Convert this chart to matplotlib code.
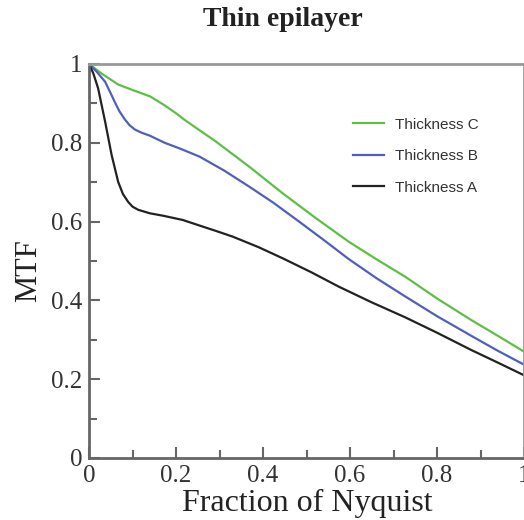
import matplotlib
matplotlib.use("Agg")
import matplotlib.pyplot as plt
from matplotlib.ticker import MultipleLocator, FuncFormatter

# MTF curves vs. spatial frequency (fraction of Nyquist)
x_a = [0, 0.01, 0.021, 0.037, 0.052, 0.067, 0.078, 0.09, 0.1, 0.113, 0.14, 0.17,
       0.216, 0.254, 0.29, 0.33, 0.39, 0.445, 0.51, 0.574, 0.65, 0.727, 0.8,
       0.879, 0.94, 1.0]
mtf_a = [1.0, 0.976, 0.938, 0.854, 0.769, 0.701, 0.67, 0.65, 0.638, 0.63, 0.621,
         0.615, 0.604, 0.59, 0.577, 0.562, 0.535, 0.507, 0.472, 0.435, 0.395,
         0.357, 0.318, 0.274, 0.242, 0.21]

x_b = [0, 0.018, 0.037, 0.048, 0.059, 0.07, 0.082, 0.093, 0.105, 0.12, 0.14,
       0.174, 0.21, 0.254, 0.31, 0.368, 0.425, 0.483, 0.54, 0.597, 0.66, 0.727,
       0.8, 0.879, 0.94, 1.0]
mtf_b = [1.0, 0.98, 0.955, 0.93, 0.904, 0.88, 0.86, 0.845, 0.834, 0.826, 0.818,
         0.80, 0.785, 0.765, 0.73, 0.689, 0.647, 0.60, 0.553, 0.505, 0.457, 0.41,
         0.36, 0.31, 0.272, 0.237]

x_c = [0, 0.03, 0.067, 0.1, 0.14, 0.174, 0.2, 0.22, 0.292, 0.37, 0.445, 0.52,
       0.597, 0.66, 0.727, 0.8, 0.879, 0.94, 1.0]
mtf_c = [1.0, 0.975, 0.948, 0.934, 0.918, 0.895, 0.875, 0.858, 0.803, 0.738,
         0.672, 0.61, 0.549, 0.505, 0.46, 0.405, 0.35, 0.31, 0.27]

labels = ["Thickness C", "Thickness B", "Thickness A"]
colors = ["#5dc045", "#4f5fc0", "#222222"]

W, H = 524, 520
fig = plt.figure(figsize=(W / 100, H / 100), dpi=100)
ax = fig.add_axes([89 / W, (H - 458) / H, (524 - 89) / W, (458 - 64) / H])

serif = ["Liberation Serif", "DejaVu Serif"]
sans = ["Liberation Sans", "DejaVu Sans"]

for xs, ys, lab, col in zip([x_c, x_b, x_a], [mtf_c, mtf_b, mtf_a], labels, colors):
    ax.plot(xs, ys, color=col, lw=1.6, label=lab, solid_joinstyle="round")

ax.set_xlim(0, 1)
ax.set_ylim(0, 1)

ax.xaxis.set_major_locator(MultipleLocator(0.2))
ax.xaxis.set_minor_locator(MultipleLocator(0.1))
ax.yaxis.set_major_locator(MultipleLocator(0.2))
ax.yaxis.set_minor_locator(MultipleLocator(0.1))
fmt = FuncFormatter(lambda v, p: "%g" % round(v, 2))
ax.xaxis.set_major_formatter(fmt)
ax.yaxis.set_major_formatter(fmt)

ax.tick_params(which="both", direction="in", color="#666666", width=1.5,
               labelsize=18, labelcolor="#333333", top=False, right=False)
ax.tick_params(which="major", length=8, pad=5)
ax.tick_params(which="minor", length=6)
for lab in ax.get_xticklabels() + ax.get_yticklabels():
    lab.set_fontfamily(serif)

for name, sp in ax.spines.items():
    sp.set_color("#666666" if name in ("left", "bottom") else "#999999")
    sp.set_linewidth(2)

fig.text(283 / W, 1 - 19 / H, "Thin epilayer", family=serif, fontsize=20,
         fontweight="bold", color="#222222", ha="center", va="center")
fig.text(307 / W, 1 - 503 / H, "Fraction of Nyquist", family=serif, fontsize=23,
         color="#222222", ha="center", va="center")
fig.text(29 / W, 1 - 271 / H, "MTF", family=serif, fontsize=22,
         color="#222222", ha="center", va="center", rotation=90)

leg = ax.legend(loc="upper left", bbox_to_anchor=(345 / W, 1 - 110 / H),
                bbox_transform=fig.transFigure, frameon=False, borderpad=0,
                handlelength=2.03, handletextpad=0.72, labelspacing=1.15,
                prop={"family": sans, "size": 11})
for t in leg.get_texts():
    t.set_color("#333333")

fig.savefig("out.png", dpi=100)
